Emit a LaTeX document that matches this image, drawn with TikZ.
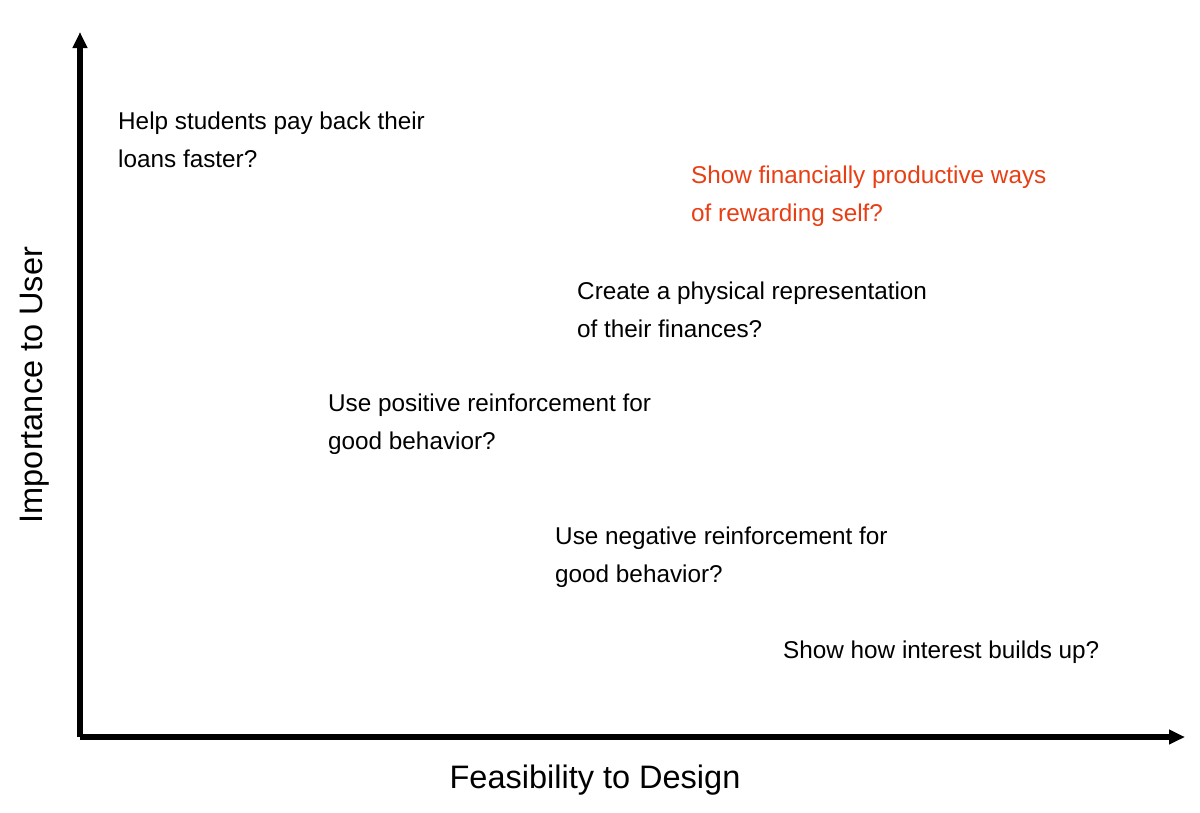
\documentclass[tikz,border=0pt]{standalone}
\usepackage{fontspec}
\setmainfont{Liberation Sans}
\usetikzlibrary{arrows.meta}
\definecolor{ideared}{RGB}{232,62,20}
\tikzstyle{idea}=[anchor=west,align=left,inner sep=0pt,font=\fontsize{24.3}{38}\selectfont]
\tikzstyle{axis}=[-{Triangle[length=16pt,width=14pt]},line width=6pt]
\tikzstyle{axislabel}=[font=\fontsize{32.5}{38}\selectfont]

\begin{document}
\begin{tikzpicture}[x=1pt,y=-1pt]
  \useasboundingbox (0,0) rectangle (1200,812);
  \coordinate (o) at (80,737);
  \coordinate (ytop) at (80,32);
  \coordinate (xend) at (1185,737);
  \draw[axis] (o) -- (ytop);
  \draw[axis] (o) -- (xend);

  \node[axislabel] (xlab) at (595,780) {Feasibility to Design};
  \node[axislabel,rotate=90] (ylab) at (35,385) {Importance to User};

  \node[idea] (loans) at (118,140) {Help students pay back their\\loans faster?};
  \node[idea,text=ideared] (reward) at (691,196) {Show financially productive ways\\of rewarding self?};
  \node[idea] (physical) at (577,310) {Create a physical representation\\of their finances?};
  \node[idea] (positive) at (328,424) {Use positive reinforcement for\\good behavior?};
  \node[idea] (negative) at (555,557) {Use negative reinforcement for\\good behavior?};
  \node[idea] (interest) at (783,652) {Show how interest builds up?};
\end{tikzpicture}
\end{document}
